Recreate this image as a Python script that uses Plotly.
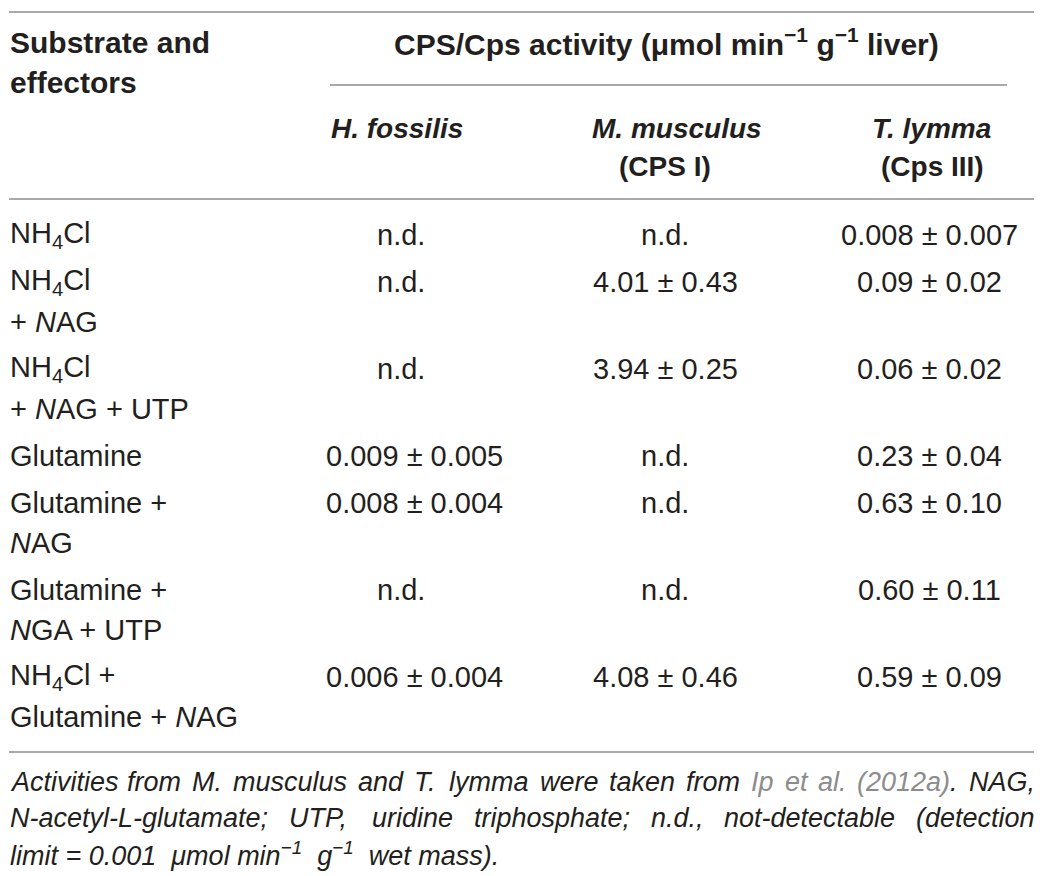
import re
import plotly.graph_objects as go

# table content
substrates = [
    "NH<sub>4</sub>Cl",
    "NH<sub>4</sub>Cl<br>+ <i>N</i>AG",
    "NH<sub>4</sub>Cl<br>+ <i>N</i>AG + UTP",
    "Glutamine",
    "Glutamine +<br><i>N</i>AG",
    "Glutamine +<br><i>N</i>GA + UTP",
    "NH<sub>4</sub>Cl +<br>Glutamine + <i>N</i>AG",
]
h_fossilis = ["n.d.", "n.d.", "n.d.", "0.009 ± 0.005", "0.008 ± 0.004", "n.d.", "0.006 ± 0.004"]
m_musculus = ["n.d.", "4.01 ± 0.43", "3.94 ± 0.25", "n.d.", "n.d.", "n.d.", "4.08 ± 0.46"]
t_lymma = ["0.008 ± 0.007", "0.09 ± 0.02", "0.06 ± 0.02", "0.23 ± 0.04", "0.63 ± 0.10", "0.60 ± 0.11", "0.59 ± 0.09"]

first_header = ["Substrate and", "effectors"]
group_header = "CPS/Cps activity (μmol min<sup>−1</sup> g<sup>−1</sup> liver)"
species_headers = [
    ["<i>H. fossilis</i>"],
    ["<i>M. musculus</i>", "(CPS I)"],
    ["<i>T. lymma</i>", "(Cps III)"],
]

GREY = "<span style='color:#8c8c8c'>%s</span>"
footnote_line1 = ["Activities", "from", "M.", "musculus", "and", "T.", "lymma", "were",
                  "taken", "from", GREY % "Ip", GREY % "et", GREY % "al.",
                  GREY % "(2012a)" + ".", "NAG,"]
footnote_line2 = ["N-acetyl-L-glutamate;", "UTP,", "uridine", "triphosphate;",
                  "n.d.,", "not-detectable", "(detection"]
footnote_line3 = "limit = 0.001\u00a0 μmol min<sup>−1</sup>\u00a0 g<sup>−1</sup>\u00a0 wet mass)."

W, H = 1042, 876
OFF = 8  # page body margin
FONT = "Liberation Sans, Arial, sans-serif"
INK = "#231f20"
RULE = "#a9a9a9"

# Arial advance widths (1/1000 em), used to justify the footnote
ADV = {" ": 278, "(": 333, ")": 333, ",": 278, "-": 333, ".": 278, ";": 278, "=": 584}
ADV.update({d: 556 for d in "0123456789"})
ADV.update(dict(zip("ABCDEFGHIJKLMNOPQRSTUVWXYZ",
                    [667, 667, 722, 722, 667, 611, 778, 722, 278, 500, 667, 556, 833,
                     722, 778, 667, 778, 722, 667, 611, 722, 667, 944, 667, 667, 611])))
ADV.update(dict(zip("abcdefghijklmnopqrstuvwxyz",
                    [556, 556, 500, 556, 556, 278, 556, 556, 222, 222, 500, 222, 833,
                     556, 556, 556, 556, 333, 500, 278, 556, 500, 722, 500, 500, 500])))


def text_width(s, size):
    plain = re.sub(r"<[^>]+>", "", s)
    return sum(ADV.get(ch, 556) for ch in plain) * size / 1000.0


fig = go.Figure()
fig.add_trace(go.Scatter(x=[OFF, W], y=[OFF, H], mode="markers", marker=dict(opacity=0),
                         hoverinfo="skip", showlegend=False))

ann = []


def txt(x, y, s, size=29, anchor="left", bold=False, italic=False, color=INK):
    if bold:
        s = "<b>" + s + "</b>"
    if italic:
        s = "<i>" + s + "</i>"
    ann.append(dict(x=x, y=y, xref="x", yref="y", text=s, showarrow=False,
                    xanchor=anchor, yanchor="middle",
                    font=dict(family=FONT, size=size, color=color)))


# header
for i, line in enumerate(first_header):
    txt(8, 42 + 40 * i, line, size=30, bold=True)
txt(666, 42, group_header, size=30, bold=True, anchor="center")

header_x = [[397], [677, 665], [931, 932]]
for col, lines in enumerate(species_headers):
    for i, line in enumerate(lines):
        txt(header_x[col][i], 128 + 38 * i, line, size=28, bold=True, anchor="center")

# body rows
col_x = [414, 665, 929]
nd_x = [401, 665, 929]
y = 235
for r, label in enumerate(substrates):
    parts = label.split("<br>")
    for i, p in enumerate(parts):
        txt(8, y + 40 * i, p)
    for c, col in enumerate([h_fossilis, m_musculus, t_lymma]):
        v = col[r]
        x = nd_x[c] if v == "n.d." else col_x[c]
        txt(x, y, v, anchor="center")
    y += 47 + 40 * (len(parts) - 1)

# footnote: italic, first two lines justified between LEFT and RIGHT
FN = 27
LEFT, RIGHT = 8, 1033
for words, yy in [(footnote_line1, 782), (footnote_line2, 818)]:
    widths = [text_width(w, FN) for w in words]
    gap = (RIGHT - LEFT - sum(widths)) / (len(words) - 1)
    x = LEFT
    for w, wd in zip(words, widths):
        txt(x, yy, w, size=FN, italic=True)
        x += wd + gap
txt(LEFT, 854, footnote_line3, size=FN, italic=True)

# horizontal rules
rules = [(12, 9, 1036), (85, 330, 1007), (199, 9, 1036), (752, 9, 1036)]
shapes = [dict(type="line", xref="x", yref="y", x0=x0, x1=x1, y0=yy, y1=yy,
               layer="above", line=dict(color=RULE, width=2)) for yy, x0, x1 in rules]

fig.update_layout(
    width=W - OFF, height=H - OFF,
    margin=dict(l=0, r=0, t=0, b=0),
    paper_bgcolor="white", plot_bgcolor="white",
    xaxis=dict(range=[OFF, W], visible=False, fixedrange=True),
    yaxis=dict(range=[H, OFF], visible=False, fixedrange=True),
    annotations=ann, shapes=shapes,
)

fig.write_html("out.html")
